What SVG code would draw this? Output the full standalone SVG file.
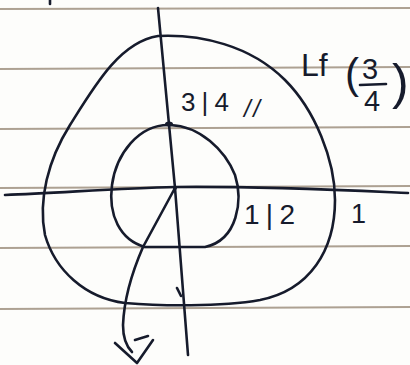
<svg xmlns="http://www.w3.org/2000/svg" width="410" height="365" viewBox="0 0 410 365">
<style>
.paper{stroke:#988a78;stroke-width:2;fill:none;opacity:0.8}
.ink{stroke:#161b2c;stroke-width:2.6;fill:none;stroke-linecap:round;stroke-linejoin:round}
.t{font-family:"Liberation Sans",Arial,sans-serif;fill:#161b2c}
</style>
<rect width="410" height="365" fill="#fdfdfb"/>
<g id="paper-lines">
<line class="paper" x1="0" y1="9" x2="410" y2="8"/>
<line class="paper" x1="0" y1="69" x2="410" y2="67"/>
<line class="paper" x1="0" y1="129" x2="410" y2="127"/>
<line class="paper" x1="0" y1="188" x2="410" y2="186"/>
<line class="paper" x1="0" y1="248" x2="410" y2="246"/>
<line class="paper" x1="0" y1="309" x2="410" y2="307"/>
</g>
<g id="outer-curve">
<path class="ink" d="M158,36 C200,34 250,45 285,80 C315,110 335,160 335,200 C335,250 310,290 260,300 C220,307 160,306 125,303 C85,298 55,270 45,235 C38,200 48,160 70,125 C95,85 120,42 158,36 Z"/>
</g>
<g id="inner-curve">
<path class="ink" d="M170,125 C200,126 225,150 235,175 C243,200 238,240 205,247 L145,247 C120,240 108,215 112,185 C116,155 138,124 170,125 Z"/>
<ellipse cx="169" cy="124" rx="4" ry="2.5" fill="#161b2c"/>
</g>
<g id="connectors">
<path class="ink" d="M5,195 C60,193 120,188 175,187 C260,186 340,190 408,193"/>
<path class="ink" d="M158,8 L175,188 L188,355"/>
<path class="ink" d="M177,288 L181,296"/>
<path class="ink" d="M175,188 L143,247 C133,270 124,300 123,325 C123,340 128,348 132,352"/>
<path class="ink" d="M115,343 L137,363 L153,340 M135,340 L148,336"/>
<path class="ink" d="M50,0 L50,4"/>
<circle cx="175" cy="188" r="2" fill="#161b2c"/>
</g>
<g id="labels">
<text class="t" x="181" y="111" font-size="26" textLength="48">3|4</text>
<text class="t" x="244" y="117" font-size="24" textLength="16" font-style="italic">//</text>
<text class="t" x="244" y="224" font-size="28" textLength="51">1|2</text>
<text class="t" x="351" y="223" font-size="27">1</text>
<text class="t" x="301" y="76" font-size="32">Lf</text>
<text class="t" x="345" y="88" font-size="42">(</text>
<text class="t" x="362" y="79" font-size="29">3</text>
<line class="ink" x1="360" y1="85" x2="386" y2="84"/>
<text class="t" x="364" y="111" font-size="29">4</text>
<text class="t" x="392" y="99" font-size="50">)</text>
</g>
</svg>
